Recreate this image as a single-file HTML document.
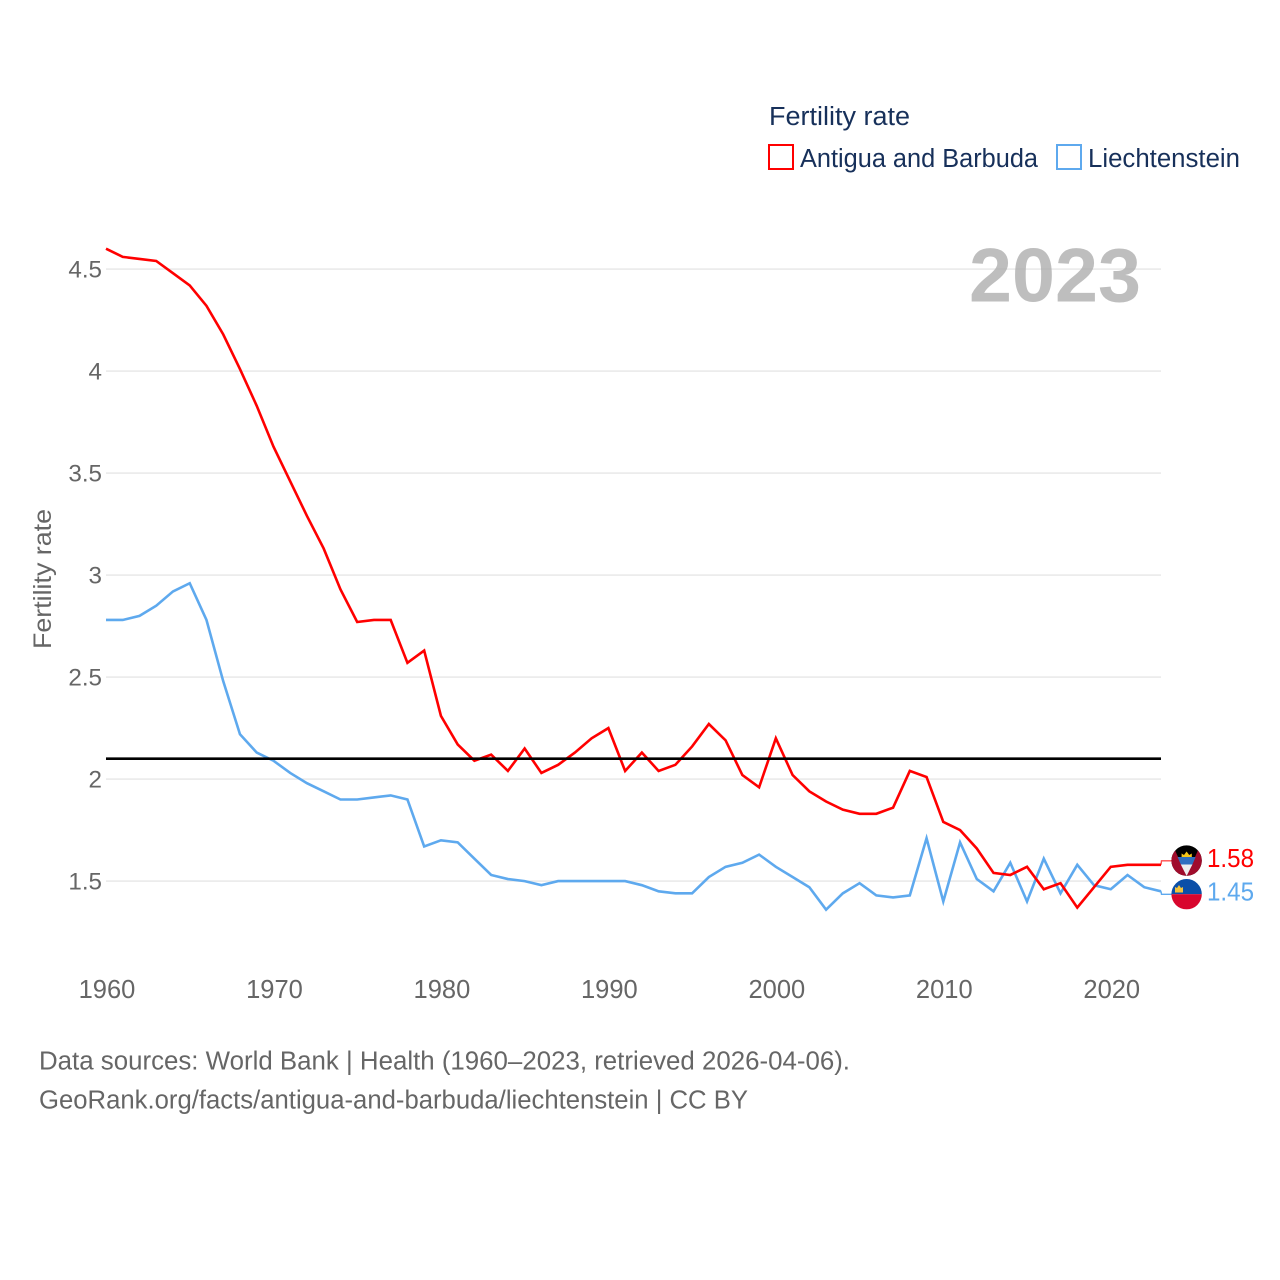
<!DOCTYPE html>
<html lang="en">
<head>
<meta charset="utf-8">
<title>Fertility rate: Antigua and Barbuda and Liechtenstein</title>
<style>
html,body{margin:0;padding:0;background:#fff;width:1280px;height:1280px;overflow:hidden}
svg{display:block;font-family:"Liberation Sans",sans-serif}
</style>
</head>
<body>
<svg id="chart" width="1280" height="1280" viewBox="0 0 1280 1280" xmlns="http://www.w3.org/2000/svg">
  <defs>
    <clipPath id="flag-clip-ag"><circle cx="1186.6" cy="860.6" r="15.2"/></clipPath>
    <clipPath id="flag-clip-li"><circle cx="1186.6" cy="894.2" r="15.2"/></clipPath>
  </defs>
  <g id="grid"></g>
  <text x="969" y="301.5" font-size="76" font-weight="bold" fill="#a8a8a8" fill-opacity="0.75" textLength="172" lengthAdjust="spacingAndGlyphs">2023</text>
  <g id="y-ticks"></g>
  <g id="x-ticks"></g>
  <text transform="translate(51,649) rotate(-90)" font-size="25" fill="#666" textLength="140" lengthAdjust="spacingAndGlyphs">Fertility rate</text>
  <g id="series"></g>
  <line id="ref" stroke="#000" stroke-width="2.7"/>
  <g id="ends"></g>

  <g clip-path="url(#flag-clip-ag)">
    <rect x="1171" y="845" width="31" height="32" fill="#000"/>
    <polygon points="1171,845 1174,848 1186.6,876 1171,877" fill="#a00c2c"/>
    <polygon points="1202,845 1199,848 1186.6,876 1202,877" fill="#a00c2c"/>
    <polygon points="1177.6,857 1195.6,857 1192.4,864.5 1180.8,864.5" fill="#2f6fc0"/>
    <polygon points="1180.8,864.5 1192.4,864.5 1186.6,876" fill="#eeeeee"/>
    <polygon points="1181.6,857 1181.6,853.5 1184,855 1186.6,851.5 1189.2,855 1191.8,853.5 1191.8,857" fill="#f5c518"/>
  </g>
  <g clip-path="url(#flag-clip-li)">
    <rect x="1171" y="879" width="31" height="15.2" fill="#0b4fa8"/>
    <rect x="1171" y="894.2" width="31" height="15.2" fill="#d8062d"/>
    <polygon points="1175,892.5 1175,887 1177,888 1179,885 1181,888 1183,887 1183,892.5" fill="#f3c33c"/>
  </g>

  <g>
    <text x="769" y="125" font-size="25.5" fill="#17305a" textLength="141" lengthAdjust="spacingAndGlyphs">Fertility rate</text>
    <g>
      <rect x="769" y="145" width="24" height="24" fill="#fff" stroke="#ff0000" stroke-width="2"/>
      <text x="800" y="167" font-size="25.5" fill="#17305a" textLength="238" lengthAdjust="spacingAndGlyphs">Antigua and Barbuda</text>
    </g>
    <g>
      <rect x="1057" y="145" width="24" height="24" fill="#fff" stroke="#5ea9ee" stroke-width="2"/>
      <text x="1088" y="167" font-size="25.5" fill="#17305a" textLength="152" lengthAdjust="spacingAndGlyphs">Liechtenstein</text>
    </g>
  </g>

  <g>
    <text x="39" y="1069.5" font-size="25.5" fill="#666" textLength="811" lengthAdjust="spacingAndGlyphs">Data sources: World Bank | Health (1960–2023, retrieved 2026-04-06).</text>
    <text x="39" y="1108.5" font-size="25.5" fill="#666" textLength="709" lengthAdjust="spacingAndGlyphs">GeoRank.org/facts/antigua-and-barbuda/liechtenstein | CC BY</text>
  </g>
</svg>
<script>
const startYear = 1960;
const antiguaValues = [4.60,4.56,4.55,4.54,4.48,4.42,4.32,4.18,4.01,3.83,3.63,3.46,3.29,3.13,2.93,2.77,2.78,2.78,2.57,2.63,2.31,2.17,2.09,2.12,2.04,2.15,2.03,2.07,2.13,2.20,2.25,2.04,2.13,2.04,2.07,2.16,2.27,2.19,2.02,1.96,2.20,2.02,1.94,1.89,1.85,1.83,1.83,1.86,2.04,2.01,1.79,1.75,1.66,1.54,1.53,1.57,1.46,1.49,1.37,1.47,1.57,1.58,1.58,1.58];
const liechtensteinValues = [2.78,2.78,2.80,2.85,2.92,2.96,2.78,2.48,2.22,2.13,2.09,2.03,1.98,1.94,1.90,1.90,1.91,1.92,1.90,1.67,1.70,1.69,1.61,1.53,1.51,1.50,1.48,1.50,1.50,1.50,1.50,1.50,1.48,1.45,1.44,1.44,1.52,1.57,1.59,1.63,1.57,1.52,1.47,1.36,1.44,1.49,1.43,1.42,1.43,1.71,1.40,1.69,1.51,1.45,1.59,1.40,1.61,1.44,1.58,1.48,1.46,1.53,1.47,1.45];
const yTickValues = [1.5,2,2.5,3,3.5,4,4.5];
const yTickLabels = ["1.5","2","2.5","3","3.5","4","4.5"];
const xTickValues = [1960,1970,1980,1990,2000,2010,2020];
const xTickLabels = ["1960","1970","1980","1990","2000","2010","2020"];
const replacementRate = [2.1];

const NS = "http://www.w3.org/2000/svg";
const plotLeft = 106, plotRight = 1161;
function xScale(year){ return plotLeft + (year - 1960) * (plotRight - plotLeft) / 63; }
function yScale(v){ return 269.1 + (4.5 - v) * 204; }

const gridG = document.getElementById("grid");
const yG = document.getElementById("y-ticks");
yTickValues.forEach(function(v, i){
  const ln = document.createElementNS(NS, "line");
  
  
  ln.setAttribute("x1", plotLeft);
  ln.setAttribute("x2", plotRight);
  ln.setAttribute("y1", yScale(v));
  ln.setAttribute("y2", yScale(v));
  ln.setAttribute("stroke", "#e6e6e6");
  ln.setAttribute("stroke-width", "1.4");
  gridG.appendChild(ln);
  const t = document.createElementNS(NS, "text");
  
  
  t.setAttribute("x", 102);
  t.setAttribute("y", yScale(v) + 8.4);
  t.setAttribute("text-anchor", "end");
  t.setAttribute("font-size", "24.2");
  t.setAttribute("fill", "#666");
  t.textContent = yTickLabels[i];
  yG.appendChild(t);
});

const xG = document.getElementById("x-ticks");
xTickValues.forEach(function(v, i){
  const t = document.createElementNS(NS, "text");
  
  
  t.setAttribute("x", xScale(v) + 1);
  t.setAttribute("y", 998);
  t.setAttribute("text-anchor", "middle");
  t.setAttribute("font-size", "25.5");
  t.setAttribute("fill", "#666");
  t.textContent = xTickLabels[i];
  xG.appendChild(t);
});

function linePoints(values){
  return values.map(function(v, i){
    return xScale(startYear + i).toFixed(2) + "," + yScale(v).toFixed(2);
  }).join(" ");
}

const seriesG = document.getElementById("series");
const blueLine = document.createElementNS(NS, "polyline");


blueLine.setAttribute("points", linePoints(liechtensteinValues));
blueLine.setAttribute("fill", "none");
blueLine.setAttribute("stroke", "#5ea9ee");
blueLine.setAttribute("stroke-width", "2.6");
seriesG.appendChild(blueLine);

const redLine = document.createElementNS(NS, "polyline");


redLine.setAttribute("points", linePoints(antiguaValues));
redLine.setAttribute("fill", "none");
redLine.setAttribute("stroke", "#ff0000");
redLine.setAttribute("stroke-width", "2.6");
seriesG.appendChild(redLine);

const refLine = document.getElementById("ref");
refLine.setAttribute("x1", plotLeft);
refLine.setAttribute("x2", plotRight);
refLine.setAttribute("y1", yScale(replacementRate[0]));
refLine.setAttribute("y2", yScale(replacementRate[0]));

const endsG = document.getElementById("ends");
const lastRed = antiguaValues[antiguaValues.length - 1];
const lastBlue = liechtensteinValues[liechtensteinValues.length - 1];

const redConn = document.createElementNS(NS, "polyline");


redConn.setAttribute("points", plotRight + "," + yScale(lastRed) + " " + (plotRight + 0.5) + "," + (yScale(lastRed) - 4) + " 1172," + (yScale(lastRed) - 4));
redConn.setAttribute("fill", "none");
redConn.setAttribute("stroke", "#ff0000");
redConn.setAttribute("stroke-opacity", "0.7");
redConn.setAttribute("stroke-width", "1.4");
endsG.appendChild(redConn);

const blueConn = document.createElementNS(NS, "polyline");


blueConn.setAttribute("points", plotRight + "," + yScale(lastBlue) + " " + (plotRight + 0.5) + "," + (yScale(lastBlue) + 3) + " 1172," + (yScale(lastBlue) + 3));
blueConn.setAttribute("fill", "none");
blueConn.setAttribute("stroke", "#5ea9ee");
blueConn.setAttribute("stroke-width", "1.4");
endsG.appendChild(blueConn);

const redVal = document.createElementNS(NS, "text");


redVal.setAttribute("x", 1207);
redVal.setAttribute("y", yScale(lastRed) + 2);
redVal.setAttribute("font-size", "25.5");
redVal.setAttribute("fill", "#ff0000");
redVal.setAttribute("textLength", "47");
redVal.setAttribute("lengthAdjust", "spacingAndGlyphs");
redVal.textContent = lastRed.toFixed(2);
endsG.appendChild(redVal);

const blueVal = document.createElementNS(NS, "text");


blueVal.setAttribute("x", 1207);
blueVal.setAttribute("y", yScale(lastBlue) + 9);
blueVal.setAttribute("font-size", "25.5");
blueVal.setAttribute("fill", "#5ea9ee");
blueVal.setAttribute("textLength", "47");
blueVal.setAttribute("lengthAdjust", "spacingAndGlyphs");
blueVal.textContent = lastBlue.toFixed(2);
endsG.appendChild(blueVal);
</script>
</body>
</html>
